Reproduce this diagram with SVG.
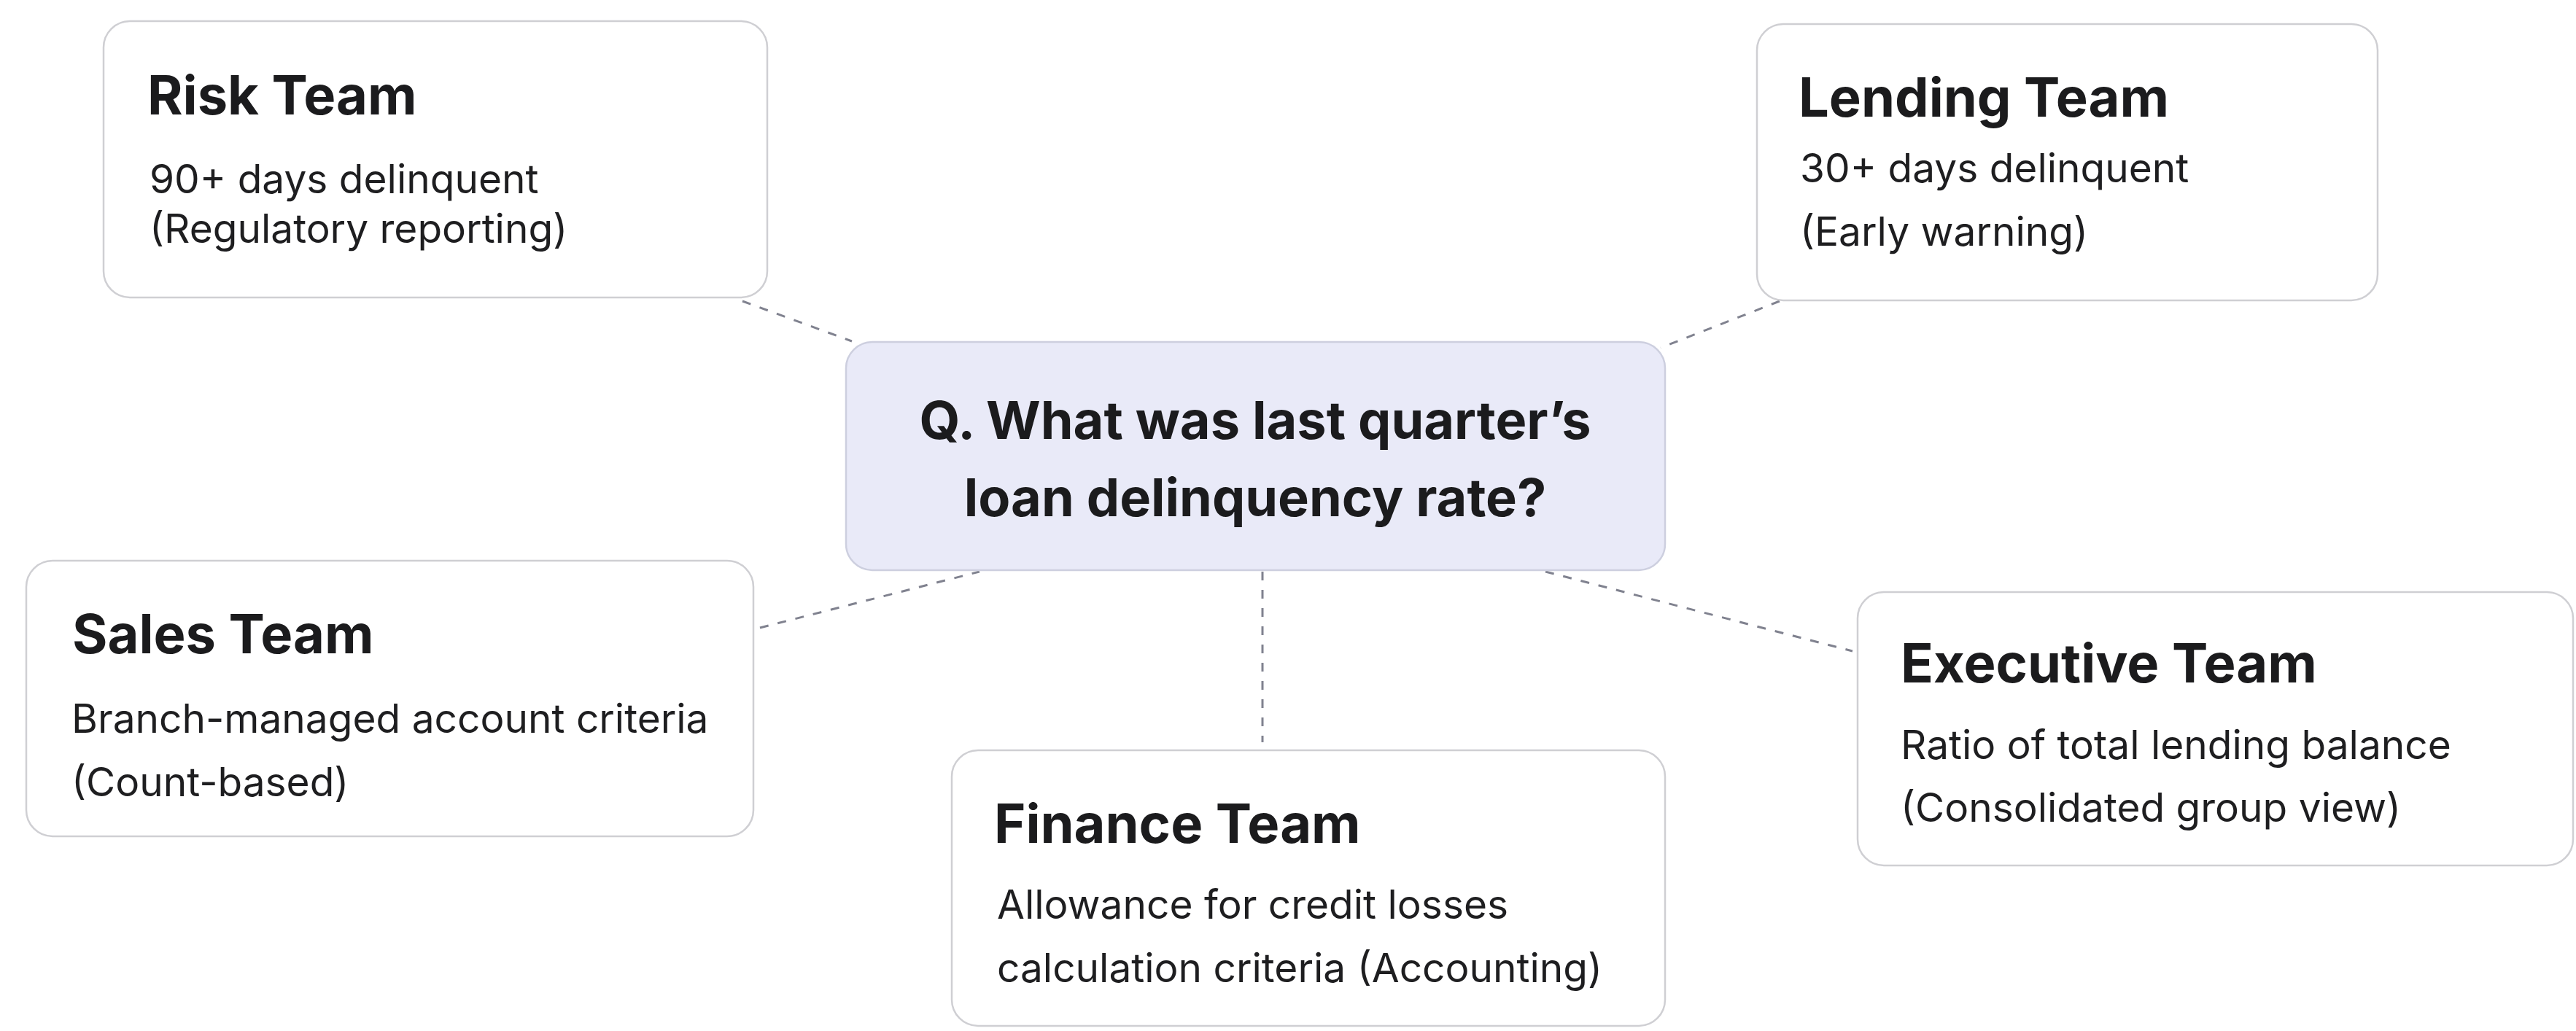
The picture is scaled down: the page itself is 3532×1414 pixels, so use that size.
<svg xmlns="http://www.w3.org/2000/svg" width="3532" height="1414" viewBox="0 0 3532 1414">
  <style>
    .box { fill: #ffffff; stroke: #cfcfd3; stroke-width: 2.5; }
    .center { fill: #e9eaf8; stroke: #cdcfdf; stroke-width: 2.5; }
    .title { font-family: Inter, "Liberation Sans", sans-serif; font-weight: 700; font-size: 74px; fill: #1b1b1d; }
    .qtext { font-family: Inter, "Liberation Sans", sans-serif; font-weight: 700; font-size: 72px; fill: #1b1b1d; text-anchor: middle; }
    .body { font-family: Inter, "Liberation Sans", sans-serif; font-weight: 400; font-size: 55px; fill: #1e1e20; }
    .conn { stroke: #80828f; stroke-width: 3; stroke-dasharray: 12 13; fill: none; }
  </style>
  <rect width="3532" height="1414" fill="#ffffff"/>
  <g id="connectors">
    <line class="conn" x1="1018" y1="413" x2="1168" y2="468"/>
    <line class="conn" x1="2440" y1="413" x2="2277" y2="477"/>
    <line class="conn" x1="1042" y1="861" x2="1343" y2="784"/>
    <line class="conn" x1="1731" y1="784" x2="1731" y2="1018"/>
    <line class="conn" x1="2119" y1="784" x2="2540" y2="893"/>
  </g>
  <g id="risk">
    <rect class="box" x="142" y="29" width="910" height="379" rx="36"/>
    <text class="title" x="202" y="157">Risk Team</text>
    <text class="body" x="205" y="265">90+ days delinquent</text>
    <text class="body" x="205" y="333">(Regulatory reporting)</text>
  </g>
  <g id="lending">
    <rect class="box" x="2409" y="33" width="851" height="379" rx="36"/>
    <text class="title" x="2466" y="160">Lending Team</text>
    <text class="body" x="2468" y="250">30+ days delinquent</text>
    <text class="body" x="2468" y="337">(Early warning)</text>
  </g>
  <g id="question">
    <rect class="center" x="1160" y="469" width="1123" height="313" rx="36"/>
    <text class="qtext" x="1721" y="602">Q. What was last quarter’s</text>
    <text class="qtext" x="1721" y="708">loan delinquency rate?</text>
  </g>
  <g id="sales">
    <rect class="box" x="36" y="769" width="997" height="378" rx="36"/>
    <text class="title" x="99" y="896">Sales Team</text>
    <text class="body" x="98" y="1005">Branch-managed account criteria</text>
    <text class="body" x="98" y="1092">(Count-based)</text>
  </g>
  <g id="finance">
    <rect class="box" x="1305" y="1029" width="978" height="378" rx="36"/>
    <text class="title" x="1363" y="1156">Finance Team</text>
    <text class="body" x="1367" y="1260">Allowance for credit losses</text>
    <text class="body" x="1367" y="1347">calculation criteria (Accounting)</text>
  </g>
  <g id="executive">
    <rect class="box" x="2547" y="812" width="981" height="375" rx="36"/>
    <text class="title" x="2606" y="936">Executive Team</text>
    <text class="body" x="2606" y="1041">Ratio of total lending balance</text>
    <text class="body" x="2606" y="1127">(Consolidated group view)</text>
  </g>
</svg>
